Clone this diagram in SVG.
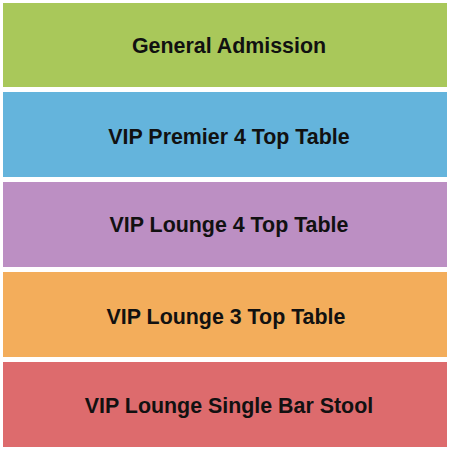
<svg xmlns="http://www.w3.org/2000/svg" width="450" height="450" viewBox="0 0 450 450">
<style>
.s{stroke:none}
.t{font-family:"Liberation Sans",Arial,sans-serif;font-weight:bold;font-size:21.4px;fill:#111;text-anchor:middle}
</style>
<rect width="450" height="450" fill="#fff"/>
<g id="ga"><rect class="s" x="3" y="3" width="444" height="84" fill="#a9c85a"/><text class="t" x="229" y="53.3">General Admission</text></g>
<g id="vip-premier"><rect class="s" x="3" y="92" width="444" height="85" fill="#64b4dc"/><text class="t" x="229" y="144">VIP Premier 4 Top Table</text></g>
<g id="vip-lounge-4"><rect class="s" x="3" y="182" width="444" height="85" fill="#bc8fc3"/><text class="t" x="229" y="232">VIP Lounge 4 Top Table</text></g>
<g id="vip-lounge-3"><rect class="s" x="3" y="272" width="444" height="85" fill="#f3ad5b"/><text class="t" x="226" y="324">VIP Lounge 3 Top Table</text></g>
<g id="vip-bar"><rect class="s" x="3" y="362" width="444" height="85" fill="#dd6b6d"/><text class="t" x="229" y="413">VIP Lounge Single Bar Stool</text></g>
<g id="connectors"/>
</svg>
